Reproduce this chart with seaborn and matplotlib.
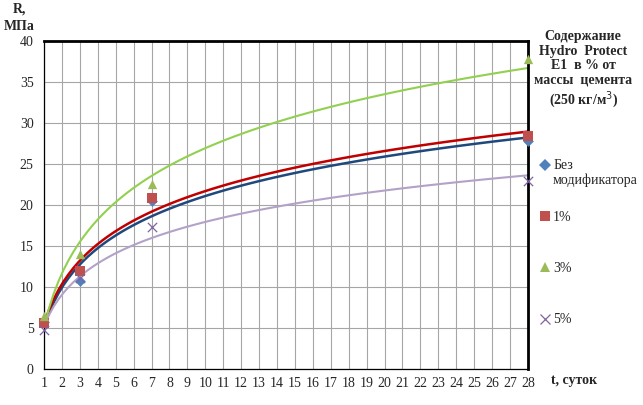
import numpy as np
import pandas as pd
import matplotlib
matplotlib.use("Agg")
import matplotlib.pyplot as plt
import matplotlib.transforms as mtransforms
import seaborn as sns
from matplotlib.lines import Line2D
from matplotlib.legend_handler import HandlerLine2D

# Age of concrete, days
days = [1, 3, 7, 28]

# Strength R, MPa, per admixture content
r_none = [5.7, 10.7, 20.5, 27.8]
r_1 = [5.6, 12.0, 20.8, 28.4]
r_3 = [6.5, 14.0, 22.5, 37.8]
r_5 = [4.8, 11.1, 17.3, 22.9]

labels = ["Без\nмодификатора", "1%", "3%", "5%"]
series = [r_none, r_1, r_3, r_5]
marker_colors = ["#4F81BD", "#C0504D", "#9BBB59", "#8064A2"]
line_colors = ["#1F497D", "#C00000", "#92D050", "#B3A2C7"]
markers = ["D", "s", "^", "x"]
msizes = [30, 45, 45, 45]

x_ticks = list(range(1, 29))
y_ticks = list(range(0, 41, 5))


class ShiftedHandler(HandlerLine2D):
    """Marker raised so it sits next to the first line of a two-line label."""
    def __init__(self, dy, **kw):
        super().__init__(**kw)
        self.dy = dy

    def create_artists(self, legend, orig_handle, xdescent, ydescent, width, height, fontsize, trans):
        trans = trans + mtransforms.Affine2D().translate(0, self.dy)
        return super().create_artists(legend, orig_handle, xdescent, ydescent, width, height, fontsize, trans)


sns.set_style("white")
plt.rcParams["font.family"] = ["Liberation Serif", "DejaVu Serif"]

fig = plt.figure(figsize=(6.43, 4.05), dpi=100)
ax = fig.add_axes([0.0684, 0.0889, 0.7526, 0.81])

handles = []
for vals, lab, mc, lc, m, s in zip(series, labels, marker_colors, line_colors, markers, msizes):
    df = pd.DataFrame({"t": days, "R": vals})
    # logarithmic trend line, like the spreadsheet trendline
    sns.regplot(data=df, x="t", y="R", logx=True, ci=None, scatter=False,
                ax=ax, line_kws={"color": lc, "lw": 1.8 if lc in ("#1F497D", "#C00000") else 1.5})
    if m == "x":
        ax.scatter(days, vals, marker=m, color=mc, s=s, linewidths=0.9, zorder=5, clip_on=False)
    else:
        ax.scatter(days, vals, marker=m, color=mc, s=s, linewidths=0, zorder=5, clip_on=False)
    handles.append(Line2D([], [], marker=m, color=mc, ls="none",
                          markersize=7 if m != "D" else 6, markeredgewidth=0.9 if m == "x" else 0))

ax.set_xlim(1, 28)
ax.set_ylim(0, 40)
ax.set_xticks(x_ticks)
ax.set_yticks(y_ticks)
ax.grid(True, color="#A6A6A6", lw=0.8)
ax.set_axisbelow(True)
ax.tick_params(axis="both", labelsize=10, length=4, direction="out", color="black", width=0.8)
ax.tick_params(axis="x", pad=2)
ax.set_xlabel("")
ax.set_ylabel("")
for side in ["top", "right"]:
    ax.spines[side].set_linewidth(2)
    ax.spines[side].set_color("black")
for side in ["left", "bottom"]:
    ax.spines[side].set_linewidth(0.9)
    ax.spines[side].set_color("black")

fig.text(0.03, 0.993, "R,\nМПа", fontsize=10, fontweight="bold", ha="center", va="top",
         linespacing=1.4)
fig.text(0.893, 0.06, "t, суток", fontsize=10, fontweight="bold", ha="center", va="center")
fig.text(0.907, 0.925, "Содержание\nHydro  Protect\nE1  в % от\nмассы  цемента\n(250 кг/м$^3$)",
         fontsize=10, fontweight="bold", ha="center", va="top", linespacing=1.15)

# one legend box per entry, spaced evenly like the original
legend_y = [0.573, 0.464, 0.338, 0.210]
for h, lab, y in zip(handles, labels, legend_y):
    hmap = {h: ShiftedHandler(8)} if "\n" in lab else None
    fig.legend([h], [lab], loc="center left", bbox_to_anchor=(0.83, y),
               frameon=False, fontsize=10, handlelength=0.8, handletextpad=0.2,
               borderaxespad=0, handler_map=hmap)

fig.savefig("out.png", dpi=100)
